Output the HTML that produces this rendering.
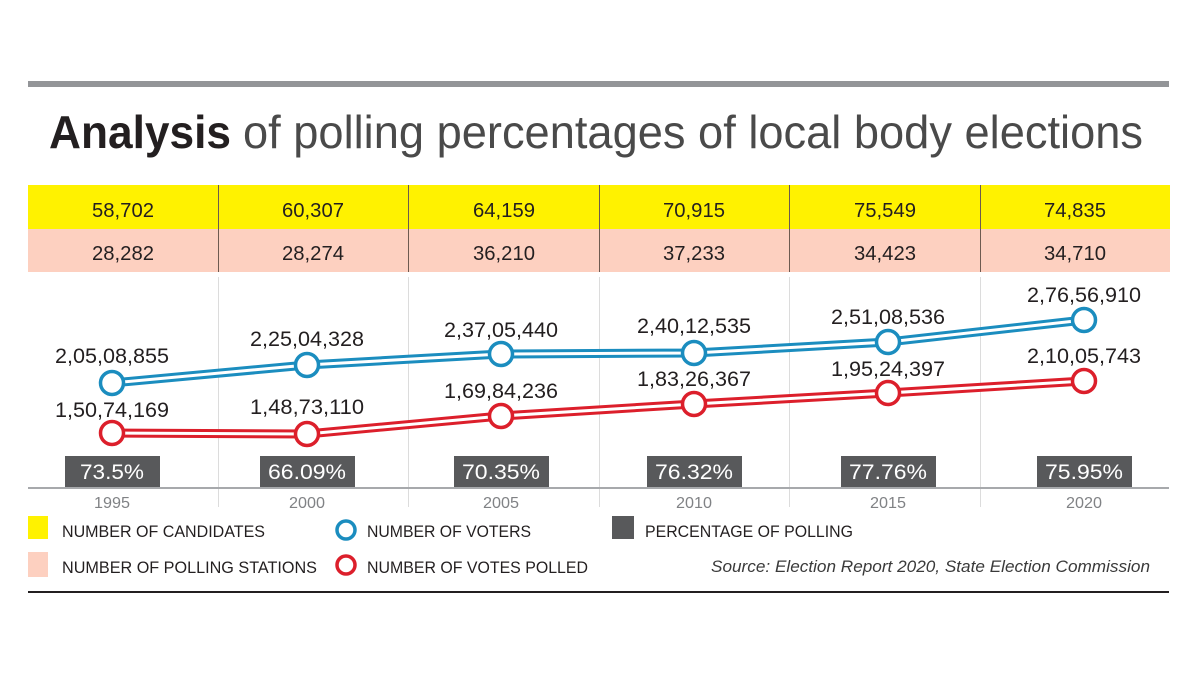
<!DOCTYPE html>
<html><head><meta charset="utf-8"><style>
html,body{margin:0;padding:0;background:#fff;}
svg{display:block;font-family:"Liberation Sans",sans-serif;}
</style></head><body>
<svg width="1200" height="675" viewBox="0 0 1200 675" xmlns="http://www.w3.org/2000/svg">
<rect x="28" y="81" width="1141" height="6" fill="#939598"/>
<text x="49" y="148" font-size="46" font-weight="bold" fill="#231f20" textLength="182" lengthAdjust="spacingAndGlyphs">Analysis</text>
<text x="243" y="148" font-size="46" fill="#4a4a4a" textLength="900" lengthAdjust="spacingAndGlyphs">of polling percentages of local body elections</text>
<rect x="28" y="185" width="1142" height="44" fill="#fff200"/>
<rect x="28" y="229" width="1142" height="43" fill="#fdd0c0"/>
<g stroke="#6d5a50" stroke-width="1">
<line x1="218.5" y1="185" x2="218.5" y2="272"/><line x1="408.5" y1="185" x2="408.5" y2="272"/><line x1="599.5" y1="185" x2="599.5" y2="272"/><line x1="789.5" y1="185" x2="789.5" y2="272"/><line x1="980.5" y1="185" x2="980.5" y2="272"/>
</g>
<g stroke="#dcdcdc" stroke-width="1">
<line x1="218.5" y1="277" x2="218.5" y2="507"/><line x1="408.5" y1="277" x2="408.5" y2="507"/><line x1="599.5" y1="277" x2="599.5" y2="507"/><line x1="789.5" y1="277" x2="789.5" y2="507"/><line x1="980.5" y1="277" x2="980.5" y2="507"/>
</g>
<g font-size="20" fill="#231f20" text-anchor="middle">
<text x="123" y="217" textLength="62" lengthAdjust="spacingAndGlyphs">58,702</text>
<text x="313" y="217" textLength="62" lengthAdjust="spacingAndGlyphs">60,307</text>
<text x="504" y="217" textLength="62" lengthAdjust="spacingAndGlyphs">64,159</text>
<text x="694" y="217" textLength="62" lengthAdjust="spacingAndGlyphs">70,915</text>
<text x="885" y="217" textLength="62" lengthAdjust="spacingAndGlyphs">75,549</text>
<text x="1075" y="217" textLength="62" lengthAdjust="spacingAndGlyphs">74,835</text>
<text x="123" y="260" textLength="62" lengthAdjust="spacingAndGlyphs">28,282</text>
<text x="313" y="260" textLength="62" lengthAdjust="spacingAndGlyphs">28,274</text>
<text x="504" y="260" textLength="62" lengthAdjust="spacingAndGlyphs">36,210</text>
<text x="694" y="260" textLength="62" lengthAdjust="spacingAndGlyphs">37,233</text>
<text x="885" y="260" textLength="62" lengthAdjust="spacingAndGlyphs">34,423</text>
<text x="1075" y="260" textLength="62" lengthAdjust="spacingAndGlyphs">34,710</text>
</g>
<polyline points="112,383 307,365 501,354 694,353 888,342 1084,320" fill="none" stroke="#1b8dbf" stroke-width="9"/>
<polyline points="112,383 307,365 501,354 694,353 888,342 1084,320" fill="none" stroke="#fff" stroke-width="3"/>
<polyline points="112,433 307,434 501,416 694,404 888,393 1084,381" fill="none" stroke="#dc1f2b" stroke-width="9"/>
<polyline points="112,433 307,434 501,416 694,404 888,393 1084,381" fill="none" stroke="#fff" stroke-width="3"/>
<g fill="#fff" stroke="#1b8dbf" stroke-width="3.5">
<circle cx="112" cy="383" r="11.5"/><circle cx="307" cy="365" r="11.5"/><circle cx="501" cy="354" r="11.5"/><circle cx="694" cy="353" r="11.5"/><circle cx="888" cy="342" r="11.5"/><circle cx="1084" cy="320" r="11.5"/>
</g>
<g fill="#fff" stroke="#dc1f2b" stroke-width="3.5">
<circle cx="112" cy="433" r="11.5"/><circle cx="307" cy="434" r="11.5"/><circle cx="501" cy="416" r="11.5"/><circle cx="694" cy="404" r="11.5"/><circle cx="888" cy="393" r="11.5"/><circle cx="1084" cy="381" r="11.5"/>
</g>
<g font-size="21" fill="#231f20" text-anchor="middle">
<text x="112" y="363" textLength="114" lengthAdjust="spacingAndGlyphs">2,05,08,855</text>
<text x="307" y="346" textLength="114" lengthAdjust="spacingAndGlyphs">2,25,04,328</text>
<text x="501" y="337" textLength="114" lengthAdjust="spacingAndGlyphs">2,37,05,440</text>
<text x="694" y="333" textLength="114" lengthAdjust="spacingAndGlyphs">2,40,12,535</text>
<text x="888" y="324" textLength="114" lengthAdjust="spacingAndGlyphs">2,51,08,536</text>
<text x="1084" y="302" textLength="114" lengthAdjust="spacingAndGlyphs">2,76,56,910</text>
<text x="112" y="417" textLength="114" lengthAdjust="spacingAndGlyphs">1,50,74,169</text>
<text x="307" y="414" textLength="114" lengthAdjust="spacingAndGlyphs">1,48,73,110</text>
<text x="501" y="398" textLength="114" lengthAdjust="spacingAndGlyphs">1,69,84,236</text>
<text x="694" y="386" textLength="114" lengthAdjust="spacingAndGlyphs">1,83,26,367</text>
<text x="888" y="376" textLength="114" lengthAdjust="spacingAndGlyphs">1,95,24,397</text>
<text x="1084" y="363" textLength="114" lengthAdjust="spacingAndGlyphs">2,10,05,743</text>
</g>
<g fill="#58595b">
<rect x="65" y="456" width="95" height="32"/><rect x="260" y="456" width="95" height="32"/><rect x="454" y="456" width="95" height="32"/><rect x="647" y="456" width="95" height="32"/><rect x="841" y="456" width="95" height="32"/><rect x="1037" y="456" width="95" height="32"/>
</g>
<g font-size="21" fill="#fff" text-anchor="middle">
<text x="112" y="479" textLength="64" lengthAdjust="spacingAndGlyphs">73.5%</text>
<text x="307" y="479" textLength="78" lengthAdjust="spacingAndGlyphs">66.09%</text>
<text x="501" y="479" textLength="78" lengthAdjust="spacingAndGlyphs">70.35%</text>
<text x="694" y="479" textLength="78" lengthAdjust="spacingAndGlyphs">76.32%</text>
<text x="888" y="479" textLength="78" lengthAdjust="spacingAndGlyphs">77.76%</text>
<text x="1084" y="479" textLength="78" lengthAdjust="spacingAndGlyphs">75.95%</text>
</g>
<rect x="28" y="487" width="1141" height="2" fill="#a7a9ac"/>
<g font-size="16" fill="#808285" text-anchor="middle">
<text x="112" y="508" textLength="36" lengthAdjust="spacingAndGlyphs">1995</text>
<text x="307" y="508" textLength="36" lengthAdjust="spacingAndGlyphs">2000</text>
<text x="501" y="508" textLength="36" lengthAdjust="spacingAndGlyphs">2005</text>
<text x="694" y="508" textLength="36" lengthAdjust="spacingAndGlyphs">2010</text>
<text x="888" y="508" textLength="36" lengthAdjust="spacingAndGlyphs">2015</text>
<text x="1084" y="508" textLength="36" lengthAdjust="spacingAndGlyphs">2020</text>
</g>
<rect x="28" y="516" width="20" height="23" fill="#fff200"/>
<rect x="28" y="552" width="20" height="25" fill="#fdd0c0"/>
<rect x="612" y="516" width="22" height="23" fill="#58595b"/>
<circle cx="346" cy="530" r="9" fill="none" stroke="#1b8dbf" stroke-width="3.5"/>
<circle cx="346" cy="565" r="9" fill="none" stroke="#dc1f2b" stroke-width="3.5"/>
<g font-size="17" fill="#231f20">
<text x="62" y="537" textLength="203" lengthAdjust="spacingAndGlyphs">NUMBER OF CANDIDATES</text>
<text x="62" y="573" textLength="255" lengthAdjust="spacingAndGlyphs">NUMBER OF POLLING STATIONS</text>
<text x="367" y="537" textLength="164" lengthAdjust="spacingAndGlyphs">NUMBER OF VOTERS</text>
<text x="367" y="573" textLength="221" lengthAdjust="spacingAndGlyphs">NUMBER OF VOTES POLLED</text>
<text x="645" y="537" textLength="208" lengthAdjust="spacingAndGlyphs">PERCENTAGE OF POLLING</text>
<text x="711" y="572" font-style="italic" fill="#3a3a3a" textLength="439" lengthAdjust="spacingAndGlyphs">Source: Election Report 2020, State Election Commission</text>
</g>
<rect x="28" y="591" width="1141" height="2" fill="#231f20"/>
</svg>
</body></html>
